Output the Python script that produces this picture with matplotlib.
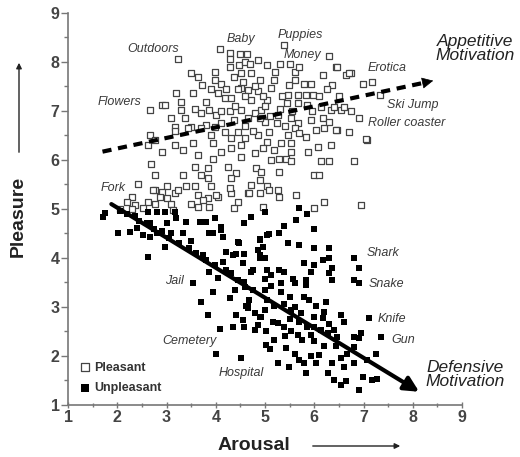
import matplotlib
matplotlib.use("Agg")
import matplotlib.pyplot as plt

plt.rcParams['font.family'] = ['Liberation Sans', 'DejaVu Sans']

# pleasant pictures (open squares): arousal, pleasure
pleasant = [
    (4.09, 8.26), (4.29, 8.19), (4.5, 8.16), (3.23, 8.06), (4.28, 8.06), (4.28, 7.9), (4.48, 7.94),
    (3.5, 7.77), (3.63, 7.7), (3.98, 7.8), (3.98, 7.63), (4.11, 7.56), (4.38, 7.7), (4.52, 7.77),
    (3.73, 7.53), (4.04, 7.37), (4.18, 7.27), (4.31, 7.26), (4.52, 7.47), (3.2, 7.36), (3.54, 7.36),
    (3.81, 7.19), (2.66, 7.03), (2.9, 7.12), (2.96, 7.12), (3.29, 7.19), (3.3, 7.02), (3.57, 7.05),
    (3.87, 7.02), (4.0, 6.92), (4.28, 6.99), (4.52, 7.02), (3.1, 6.85), (3.37, 6.85), (3.17, 6.68),
    (3.5, 6.68), (3.81, 6.71), (4.11, 6.75), (4.38, 6.82),
    (5.39, 8.35), (6.3, 8.12), (4.64, 8.16), (4.85, 8.04), (5.05, 7.94), (4.72, 7.77), (4.89, 7.63),
    (5.19, 7.63), (5.6, 7.8), (5.6, 7.63), (5.8, 7.56), (5.93, 7.56), (6.17, 7.73), (6.37, 7.53),
    (6.44, 7.9), (6.64, 7.73), (6.74, 7.77), (6.98, 7.56), (7.18, 7.6), (7.34, 7.32), (4.65, 7.43),
    (4.85, 7.4), (5.12, 7.46), (5.49, 7.53), (5.46, 7.33), (5.66, 7.33), (5.83, 7.33), (5.97, 7.33),
    (4.72, 7.22), (5.05, 7.22), (5.45, 7.16), (5.66, 7.16), (5.86, 7.12), (6.14, 7.09), (6.34, 7.02),
    (6.54, 7.02), (6.74, 6.99), (6.61, 7.09), (6.4, 7.09), (4.92, 7.02), (5.26, 6.92), (4.65, 6.85),
    (4.99, 6.78), (5.25, 6.76), (5.53, 6.85), (5.66, 6.76), (5.93, 6.82), (6.17, 6.85), (6.91, 6.85),
    (2.66, 6.51), (2.76, 6.41), (3.17, 6.59), (3.43, 6.65), (3.71, 6.65), (3.98, 6.68), (4.18, 6.58),
    (4.45, 6.58), (2.63, 6.31), (2.9, 6.17), (3.17, 6.31), (3.33, 6.2), (3.54, 6.34), (3.64, 6.1),
    (3.94, 6.34), (4.11, 6.17), (4.31, 6.24), (4.52, 6.31), (4.52, 6.07), (3.94, 6.03), (2.69, 5.92),
    (3.57, 5.86), (3.84, 5.83), (4.24, 5.86), (4.41, 5.73), (2.76, 5.69), (3.33, 5.69), (3.71, 5.69),
    (3.84, 5.63), (4.31, 5.63), (2.42, 5.52), (3.0, 5.46), (3.57, 5.46), (3.4, 5.46), (3.91, 5.46),
    (2.76, 5.39), (2.9, 5.35), (3.17, 5.32), (3.23, 5.39), (2.29, 5.25), (2.86, 5.25), (3.0, 5.22),
    (3.64, 5.29), (3.84, 5.22), (4.04, 5.25), (4.31, 5.32), (4.45, 5.15), (2.36, 5.08), (2.63, 5.15),
    (2.76, 5.11), (3.1, 5.11), (3.5, 5.11), (3.64, 5.05), (3.87, 5.05), (4.38, 5.01), (2.19, 5.15),
    (2.52, 5.01),
    (4.85, 6.51), (5.09, 6.58), (5.46, 6.51), (5.6, 6.65), (5.83, 6.46), (6.03, 6.61), (6.2, 6.65),
    (6.47, 6.61), (6.71, 6.58), (7.08, 6.41), (5.05, 6.37), (5.33, 6.34), (5.53, 6.34), (4.95, 6.24),
    (5.19, 6.2), (5.53, 6.17), (5.87, 6.17), (6.07, 6.27), (6.34, 6.31), (4.79, 6.14), (5.12, 6.0),
    (5.29, 6.03), (5.43, 6.03), (5.53, 5.97), (6.14, 5.97), (6.3, 5.97), (6.81, 5.98), (4.82, 5.83),
    (4.92, 5.76), (5.29, 5.76), (6.0, 5.69), (6.1, 5.7), (4.72, 5.49), (4.89, 5.59), (5.05, 5.46),
    (5.26, 5.39), (5.29, 5.25), (4.89, 5.32), (4.65, 5.32), (5.63, 5.29), (6.2, 5.15), (6.94, 5.08),
    (4.95, 5.05), (6.0, 5.01),
    (2.05, 5.0), (2.29, 5.0), (2.72, 5.39), (3.13, 4.98), (3.74, 5.18), (4.01, 5.29), (4.28, 5.42),
    (4.68, 5.32), (5.09, 5.39), (6.47, 7.9), (6.71, 7.78), (7.06, 6.42), (6.3, 6.78), (6.44, 6.61),
    (4.6, 8.0), (4.7, 7.95), (4.55, 7.6), (4.45, 7.45), (4.6, 7.3), (4.8, 7.5), (4.95, 7.3),
    (5.0, 7.1), (4.8, 6.95), (4.6, 6.7), (4.75, 6.6), (4.9, 6.85), (5.1, 6.9), (5.3, 7.05),
    (5.35, 7.3), (5.2, 7.8), (5.3, 7.95), (5.5, 7.95), (5.7, 7.9), (4.4, 7.1), (4.2, 7.45),
    (4.1, 7.0), (3.9, 7.45), (3.7, 6.95), (3.9, 6.5), (4.3, 6.45), (4.6, 6.45), (5.4, 6.7),
    (5.7, 6.55), (5.95, 7.0), (6.1, 7.3), (6.25, 7.45), (6.5, 7.3), (5.55, 7.0),
]

# unpleasant pictures (filled squares): arousal, pleasure
unpleasant = [
    (1.75, 4.91), (1.71, 4.84), (2.02, 4.5), (2.26, 4.54), (2.52, 4.47), (2.63, 4.03), (2.66, 4.43),
    (2.8, 4.5), (2.66, 4.71), (3.0, 4.71), (2.96, 4.23), (3.1, 4.5), (3.33, 4.5), (3.2, 4.81),
    (3.4, 4.74), (3.67, 4.74), (3.81, 4.74), (3.98, 4.81), (3.87, 4.5), (4.11, 4.57), (4.14, 4.43),
    (4.45, 4.33), (4.58, 4.71), (4.21, 4.13), (4.41, 4.09), (4.58, 4.09), (3.74, 4.06), (4.14, 3.92),
    (3.98, 3.86), (3.87, 3.72), (4.21, 3.76), (3.54, 3.48), (3.94, 3.31), (3.71, 3.11), (4.28, 3.18),
    (3.84, 2.84), (4.41, 2.84), (4.55, 2.73), (4.35, 2.6), (4.08, 2.56), (4.65, 2.97), (4.01, 2.05),
    (4.52, 1.95),
    (2.62, 4.94), (2.8, 4.94), (2.97, 4.94), (3.17, 4.94), (4.72, 4.84), (4.11, 4.64), (3.94, 4.5),
    (4.48, 4.3), (4.9, 4.37), (4.95, 4.23), (4.89, 4.0), (5.05, 4.47), (5.29, 4.5), (4.35, 4.06),
    (4.55, 3.89), (4.75, 3.76), (5.05, 3.76), (5.29, 3.76), (4.62, 3.01), (4.89, 2.8), (5.02, 2.22),
    (4.99, 4.94), (5.7, 5.01), (5.86, 4.9), (5.63, 4.78), (6.0, 4.6), (5.39, 4.65), (5.09, 4.49),
    (4.89, 4.38), (5.46, 4.3), (5.7, 4.27), (6.0, 4.2), (6.3, 4.2), (4.85, 4.16), (4.89, 4.06),
    (4.99, 3.99), (6.81, 3.99), (6.91, 3.79), (6.81, 3.55), (6.91, 3.48), (5.8, 3.89), (6.0, 3.86),
    (6.17, 3.96), (6.3, 3.99), (5.93, 3.72), (6.37, 3.79), (6.3, 3.69), (6.37, 3.55), (5.39, 3.72),
    (5.12, 3.65), (4.99, 3.58), (4.72, 3.72), (4.58, 3.52), (4.75, 3.35), (5.56, 3.58), (5.6, 3.48),
    (5.83, 3.55), (5.83, 3.45), (5.33, 3.48), (5.12, 3.42), (4.99, 3.35), (5.33, 3.31), (5.8, 3.21),
    (5.9, 3.14), (6.03, 3.01), (6.24, 3.11), (6.2, 2.9), (6.17, 2.77), (6.54, 2.84), (6.61, 2.7),
    (7.11, 2.77), (7.35, 2.39), (6.94, 2.46), (6.91, 2.36), (6.81, 2.39), (6.4, 2.53), (6.47, 2.39),
    (6.27, 2.46), (6.14, 2.53), (6.0, 2.6), (5.93, 2.43), (5.76, 2.33), (5.66, 2.43), (5.53, 2.5),
    (5.39, 2.6), (5.26, 2.67), (5.16, 2.7), (4.92, 2.8), (4.79, 2.87), (4.85, 2.63), (5.02, 2.5),
    (4.79, 2.53), (4.58, 2.6), (5.19, 2.33), (5.43, 2.16), (5.6, 2.05), (5.7, 1.92), (5.8, 1.85),
    (5.93, 1.99), (6.1, 2.02), (6.03, 1.85), (6.37, 1.85), (6.61, 1.78), (6.81, 1.85), (7.08, 1.92),
    (7.25, 2.05), (6.98, 1.58), (7.18, 1.51), (7.28, 1.54), (6.4, 1.51), (6.54, 1.41), (6.91, 1.31),
    (6.27, 1.65), (5.83, 1.65), (5.49, 1.78), (5.26, 1.85), (6.81, 2.19), (6.67, 2.05), (5.73, 2.87),
    (5.53, 2.94), (5.39, 3.07), (5.19, 3.01), (4.99, 2.94), (4.65, 3.01), (4.68, 3.14), (5.05, 3.14),
    (6.64, 1.48), (2.05, 4.95), (2.2, 4.9), (2.35, 4.85), (2.45, 4.75), (2.6, 4.72), (2.75, 4.6),
    (2.9, 4.55), (2.4, 4.62), (3.05, 4.4), (3.25, 4.3), (3.45, 4.2), (3.6, 4.1), (3.5, 4.35),
    (3.8, 3.95), (4.3, 3.7), (4.45, 3.55), (4.6, 3.4), (4.4, 3.35), (4.05, 3.6), (5.5, 3.2),
    (5.6, 3.0), (5.7, 2.7), (5.85, 2.6), (5.5, 2.75), (6.0, 2.8), (6.3, 2.65), (6.45, 2.2),
    (6.2, 2.2), (6.0, 2.3), (5.4, 2.4), (5.1, 2.15), (6.55, 1.95),
]

# picture labels: text, arousal, pleasure
picture_labels = [
    ("Outdoors", 2.72, 8.27), ("Baby", 4.52, 8.47), ("Puppies", 5.72, 8.55), ("Money", 5.76, 8.14),
    ("Erotica", 7.48, 7.88), ("Ski Jump", 8.0, 7.12), ("Roller coaster", 7.88, 6.76),
    ("Flowers", 2.05, 7.18), ("Fork", 1.91, 5.43), ("Jail", 3.17, 3.53), ("Cemetery", 3.47, 2.3),
    ("Hospital", 4.52, 1.65), ("Shark", 7.4, 4.1), ("Snake", 7.46, 3.47), ("Knife", 7.58, 2.76),
    ("Gun", 7.8, 2.33),
]

px = [p[0] for p in pleasant]
py = [p[1] for p in pleasant]
ux = [p[0] for p in unpleasant]
uy = [p[1] for p in unpleasant]

fig = plt.figure(figsize=(5.2, 4.57), dpi=100)
ax = fig.add_axes([0.1308, 0.1138, 0.7577, 0.8578])

ax.scatter(px, py, marker='s', s=16, facecolors='white', edgecolors='#444444', linewidths=0.9,
           label='Pleasant', zorder=3)
ax.scatter(ux, uy, marker='s', s=16, color='black', linewidths=0, label='Unpleasant', zorder=3)

# motivation arrows
ax.plot([1.7, 8.2], [6.17, 7.57], color='black', lw=3, dashes=(2.2, 1.6), zorder=4)
ax.annotate('', xy=(8.47, 7.63), xytext=(8.15, 7.56),
            arrowprops=dict(arrowstyle='-|>', color='black', lw=0.5, mutation_scale=18), zorder=4)
ax.annotate('', xy=(8.13, 1.27), xytext=(1.88, 5.1),
            arrowprops=dict(arrowstyle='-|>', color='black', lw=3, mutation_scale=22,
                            shrinkA=0, shrinkB=0), zorder=4)

for name, xx, yy in picture_labels:
    ax.text(xx, yy, name, style='italic', fontsize=9, color='#3a3a3a', ha='center', va='center')

ax.text(9.26, 8.27, "Appetitive\nMotivation", style='italic', fontsize=12.5, color='#222222',
        ha='center', va='center', linespacing=0.9, clip_on=False)
ax.text(9.06, 1.62, "Defensive\nMotivation", style='italic', fontsize=12.5, color='#222222',
        ha='center', va='center', linespacing=0.9, clip_on=False)

ax.set_xlim(1, 9)
ax.set_ylim(1, 9)
ax.set_xticks(range(1, 10))
ax.set_yticks(range(1, 10))
ax.set_xticks([i + 0.5 for i in range(1, 9)], minor=True)
ax.set_yticks([i + 0.5 for i in range(1, 9)], minor=True)
for s in ['top', 'right']:
    ax.spines[s].set_visible(False)
for s in ['left', 'bottom']:
    ax.spines[s].set_color('#777777')
    ax.spines[s].set_linewidth(1.2)
ax.tick_params(axis='y', which='both', direction='out', color='#777777', width=1)
ax.tick_params(axis='y', which='major', length=5)
ax.tick_params(axis='y', which='minor', length=3)
ax.tick_params(axis='x', which='both', direction='inout', color='#777777', width=1)
ax.tick_params(axis='x', which='major', length=5)
ax.tick_params(axis='x', which='minor', length=3)
ax.tick_params(labelsize=11.5, labelcolor='#444444', pad=1)
for lab in ax.get_xticklabels() + ax.get_yticklabels():
    lab.set_fontweight('bold')

leg = ax.legend(loc='lower left', bbox_to_anchor=(0.012, 0.005), frameon=False, handlelength=0.6,
                handletextpad=0.45, labelspacing=0.7, prop={'weight': 'bold', 'size': 9},
                borderaxespad=0.3, markerscale=1.3)
for t in leg.get_texts():
    t.set_color('#333333')

# axis titles with arrows
fig.text(254 / 520, 11 / 457, "Arousal", fontsize=14, fontweight='bold', color='#222222',
         ha='center', va='center')
fig.add_artist(matplotlib.patches.FancyArrowPatch((310 / 520, 11 / 457), (403 / 520, 11 / 457),
               transform=fig.transFigure, arrowstyle='-|>', mutation_scale=8, lw=1,
               color='#222222'))
fig.text(18 / 520, (457 - 216) / 457, "Pleasure", fontsize=14, fontweight='bold', color='#222222',
         ha='center', va='center', rotation=90)
fig.add_artist(matplotlib.patches.FancyArrowPatch((19 / 520, 302 / 457), (19 / 520, 397 / 457),
               transform=fig.transFigure, arrowstyle='-|>', mutation_scale=8, lw=1,
               color='#222222'))

fig.savefig('out.png', dpi=100)
